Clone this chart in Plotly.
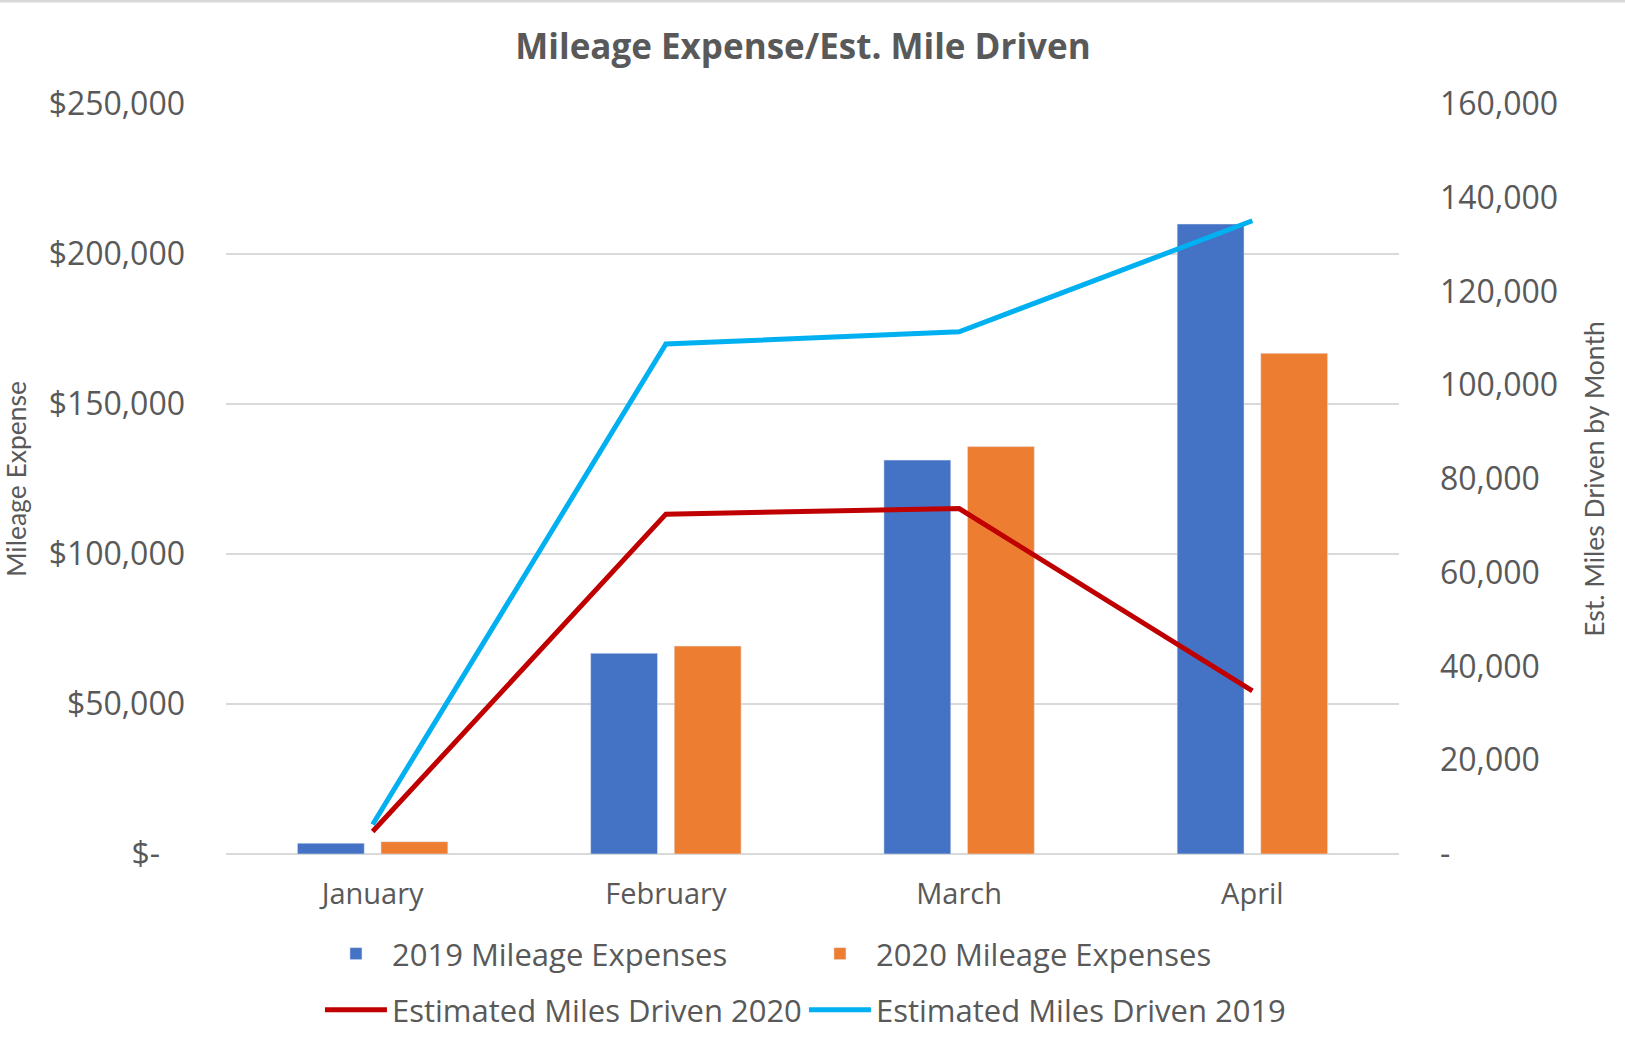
import plotly.graph_objects as go

# ---------------- data ----------------
months = ["January", "February", "March", "April"]
expenses_2019 = [3600, 66900, 131300, 210000]
expenses_2020 = [4100, 69300, 135800, 166900]
miles_2020 = [4800, 72500, 73700, 34800]
miles_2019 = [6300, 108800, 111400, 135100]

left_tickvals = [0, 50000, 100000, 150000, 200000, 250000]
left_ticktext = ["$-\u00a0\u00a0\u00a0", "$50,000", "$100,000", "$150,000", "$200,000", "$250,000"]
right_tickvals = [0, 20000, 40000, 60000, 80000, 100000, 120000, 140000, 160000]
right_ticktext = ["-", "20,000", "40,000", "60,000", "80,000", "100,000", "120,000", "140,000", "160,000"]

# ---------------- style ----------------
GREY = "#595959"
GRID = "#D9D9D9"
TICK_FONT = dict(family="Open Sans, DejaVu Sans, sans-serif", size=32, color=GREY)
TITLE_FONT = dict(family="Lato, Open Sans, sans-serif", size=26.5, color=GREY)
LEGEND_FONT = dict(family="Open Sans, sans-serif", size=31, color=GREY)

W, H = 1625, 1048
ML, MR, MT, MB = 226, 226, 104, 194
PH = H - MT - MB

fig = go.Figure()
fig.add_trace(go.Bar(x=months, y=expenses_2019, name="2019 Mileage Expenses",
                     marker=dict(color="#4472C4"), legend="legend", yaxis="y"))
fig.add_trace(go.Bar(x=months, y=expenses_2020, name="2020 Mileage Expenses",
                     marker=dict(color="#ED7D31"), legend="legend", yaxis="y"))
fig.add_trace(go.Scatter(x=months, y=miles_2020, name="Estimated Miles Driven 2020",
                         mode="lines", line=dict(color="#C00000", width=5),
                         legend="legend2", yaxis="y2"))
fig.add_trace(go.Scatter(x=months, y=miles_2019, name="Estimated Miles Driven 2019",
                         mode="lines", line=dict(color="#00B0F0", width=5),
                         legend="legend2", yaxis="y2"))

legend_common = dict(orientation="h", xanchor="left", yanchor="middle",
                     font=LEGEND_FONT, itemwidth=62, entrywidth=407,
                     bgcolor="rgba(0,0,0,0)", traceorder="normal")

fig.update_layout(
    width=W, height=H,
    margin=dict(l=ML, r=MR, t=MT, b=MB, autoexpand=False),
    paper_bgcolor="white", plot_bgcolor="white",
    title=dict(text="<b>Mileage Expense/Est. Mile Driven</b>",
               font=dict(family="Open Sans, sans-serif", size=35, color=GREY),
               x=803 / W, xanchor="center", y=1 - 47 / H, yanchor="middle", yref="container"),
    barmode="group", bargap=0.43, bargroupgap=0.2,
    showlegend=True,
    legend=dict(x=0.0801, y=-0.1333, **legend_common),
    legend2=dict(x=0.0801, y=-0.208, **legend_common),
    xaxis=dict(tickfont=dict(family="Open Sans, sans-serif", size=29, color=GREY),
               showgrid=False, showline=False, ticks="", ticklabelstandoff=20,
               automargin=False),
    yaxis=dict(range=[0, 250000], tickvals=left_tickvals, ticktext=left_ticktext,
               tickfont=TICK_FONT, showgrid=True, gridcolor=GRID, gridwidth=2,
               zeroline=True, zerolinecolor=GRID, zerolinewidth=2,
               showline=False, ticks="", ticklabelstandoff=40, automargin=False,
               title=dict(text="Mileage Expense", font=TITLE_FONT, standoff=23)),
    yaxis2=dict(range=[0, 160000], tickvals=right_tickvals, ticktext=right_ticktext,
                tickfont=TICK_FONT, overlaying="y", side="right",
                showgrid=False, zeroline=False, showline=False, ticks="",
                ticklabelstandoff=40, automargin=False,
                title=dict(text="Est. Miles Driven by Month", font=TITLE_FONT, standoff=28)),
    shapes=[dict(type="line", xref="paper", yref="paper", x0=-0.25, x1=1.25,
                 y0=1 + (MT - 1) / PH, y1=1 + (MT - 1) / PH,
                 line=dict(color=GRID, width=3))],
)

# remove the default page margin so the figure sits at the window's top-left corner
fig.write_html("out.html", config={"displayModeBar": False},
               post_script="document.body.style.margin='0';")
